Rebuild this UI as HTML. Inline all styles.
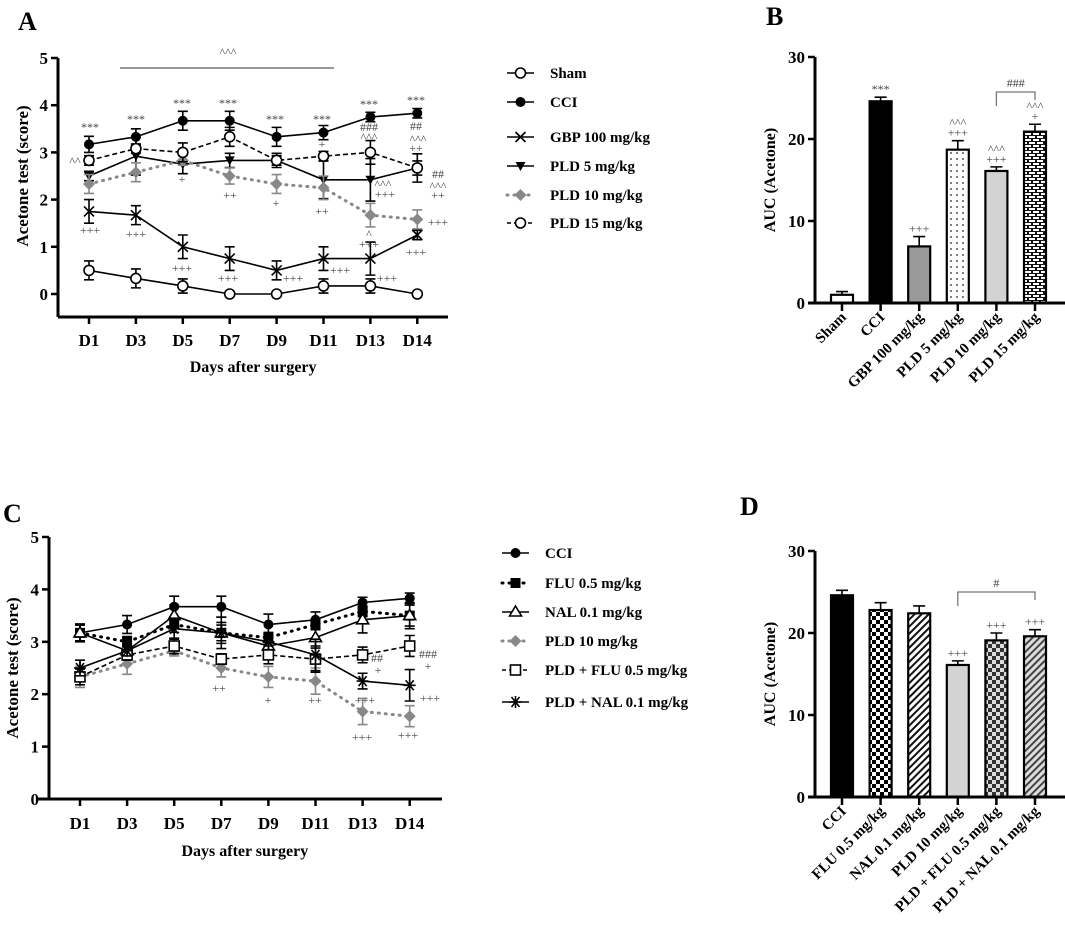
<!DOCTYPE html>
<html><head><meta charset="utf-8"><style>
html,body{margin:0;padding:0;background:#fff;}
svg{display:block;font-family:"Liberation Serif",serif;}
</style></head><body>
<svg id="fig" width="1065" height="928" viewBox="0 0 1065 928" xmlns="http://www.w3.org/2000/svg">
<defs>
<pattern id="pDots" width="6" height="6" patternUnits="userSpaceOnUse"><rect width="6" height="6" fill="#fff"/><circle cx="3" cy="3" r="0.9" fill="#222"/></pattern>
<pattern id="pBrick" width="8" height="6" patternUnits="userSpaceOnUse"><rect width="8" height="6" fill="#111"/><rect x="1" y="1" width="6" height="2" fill="#fff"/><rect x="0" y="4" width="3" height="2" fill="#fff"/><rect x="5" y="4" width="3" height="2" fill="#fff"/></pattern>
<pattern id="pCheck" width="8" height="8" patternUnits="userSpaceOnUse"><rect width="8" height="8" fill="#fff"/><rect width="4" height="4" fill="#000"/><rect x="4" y="4" width="4" height="4" fill="#000"/></pattern>
<pattern id="pHatch" width="5" height="5" patternUnits="userSpaceOnUse" patternTransform="rotate(45)"><rect width="5" height="5" fill="#fff"/><rect width="2" height="5" fill="#111"/></pattern>
<pattern id="pGCheck" width="8" height="8" patternUnits="userSpaceOnUse"><rect width="8" height="8" fill="#ddd"/><rect width="4" height="4" fill="#333"/><rect x="4" y="4" width="4" height="4" fill="#333"/></pattern>
<pattern id="pGHatch" width="5" height="5" patternUnits="userSpaceOnUse" patternTransform="rotate(45)"><rect width="5" height="5" fill="#ddd"/><rect width="2" height="5" fill="#444"/></pattern>
</defs>
</svg>
<script>
// ---- data ----
const days = ["D1","D3","D5","D7","D9","D11","D13","D14"];
const aSham = [0.5,0.33,0.17,0,0,0.17,0.17,0];
const aCCI = [3.17,3.33,3.67,3.67,3.33,3.42,3.75,3.83];
const aGBP = [1.75,1.67,1.0,0.75,0.5,0.75,0.75,1.25];
const aPLD5 = [2.5,2.92,2.75,2.83,2.83,2.42,2.42,2.67];
const aPLD10 = [2.33,2.58,2.83,2.5,2.33,2.25,1.67,1.58];
const aPLD15 = [2.83,3.08,3.0,3.33,2.83,2.92,3.0,2.67];
const errSham = [0.2,0.2,0.15,0,0,0.15,0.15,0];
const errCCI = [0.17,0.17,0.2,0.2,0.2,0.15,0.1,0.1];
const errGBP = [0.25,0.2,0.25,0.25,0.2,0.25,0.35,0.1];
const errPLD5 = [0.1,0.4,0.2,0.15,0.15,0.4,0.45,0.15];
const errPLD10 = [0.2,0.2,0.1,0.17,0.2,0.25,0.25,0.2];
const errPLD15 = [0.1,0.1,0.2,0.2,0.1,0.1,0.25,0.3];
const cFLU = [3.17,3.0,3.33,3.17,3.08,3.33,3.58,3.5];
const cNAL = [3.17,2.83,3.5,3.17,2.92,3.08,3.42,3.5];
const cPF = [2.33,2.75,2.92,2.67,2.75,2.67,2.75,2.92];
const cPN = [2.5,2.83,3.25,3.17,3.0,2.75,2.25,2.17];
const errFLU = [0.15,0.1,0.15,0.3,0.1,0.1,0.1,0.25];
const errNAL = [0.15,0.1,0.2,0.2,0.15,0.2,0.25,0.2];
const errPF = [0.15,0.1,0.15,0.1,0.17,0.25,0.15,0.2];
const errPN = [0.15,0.1,0.2,0.15,0.15,0.3,0.15,0.3];
const lineTicks = [0,1,2,3,4,5];
const bLabels = ["Sham","CCI","GBP 100 mg/kg","PLD 5 mg/kg","PLD 10 mg/kg","PLD 15 mg/kg"];
const bValues = [1.0,24.6,6.9,18.7,16.1,20.9];
const bErr = [0.4,0.5,1.2,1.1,0.5,0.9];
const dLabels = ["CCI","FLU 0.5 mg/kg","NAL 0.1 mg/kg","PLD 10 mg/kg","PLD + FLU 0.5 mg/kg","PLD + NAL 0.1 mg/kg"];
const dValues = [24.6,22.8,22.4,16.1,19.1,19.6];
const dErr = [0.6,0.9,0.9,0.5,0.9,0.8];
const barTicks = [0,10,20,30];

const NS="http://www.w3.org/2000/svg";
const svg=document.getElementById('fig');
function el(tag,attrs,parent,txt){const e=document.createElementNS(NS,tag);for(const k in attrs)e.setAttribute(k,attrs[k]);if(txt!==undefined)e.textContent=txt;(parent||svg).appendChild(e);return e;}

function marker(g,type,x,y,col){
  const s={stroke:col,'stroke-width':1.6};
  if(type==='ocircle')el('circle',Object.assign({cx:x,cy:y,r:5,fill:'#fff'},s),g);
  else if(type==='fcircle')el('circle',{cx:x,cy:y,r:5,fill:col},g);
  else if(type==='x'){el('path',Object.assign({d:`M${x-5} ${y-5}L${x+5} ${y+5}M${x-5} ${y+5}L${x+5} ${y-5}`},s),g);}
  else if(type==='dtri')el('path',{d:`M${x-5} ${y-4}L${x+5} ${y-4}L${x} ${y+5}Z`,fill:col},g);
  else if(type==='diamond')el('path',{d:`M${x} ${y-6}L${x+6} ${y}L${x} ${y+6}L${x-6} ${y}Z`,fill:col},g);
  else if(type==='fsquare')el('rect',{x:x-5,y:y-5,width:10,height:10,fill:col},g);
  else if(type==='osquare')el('rect',Object.assign({x:x-5,y:y-5,width:10,height:10,fill:'#fff'},s),g);
  else if(type==='otri')el('path',Object.assign({d:`M${x} ${y-6}L${x+6} ${y+4}L${x-6} ${y+4}Z`,fill:'#fff'},s),g);
  else if(type==='star'){el('path',Object.assign({d:`M${x-6} ${y}L${x+6} ${y}M${x-4} ${y-5}L${x+4} ${y+5}M${x-4} ${y+5}L${x+4} ${y-5}M${x} ${y-6}L${x} ${y+6}`},s),g);}
}
const dash={solid:null,dashed:'5,3',dotted:'1,6'};

function lineChart(cfg){
  const g=el('g',{});
  
  
  const X=i=>cfg.x0+i*cfg.dx, Y=v=>cfg.y0-v*cfg.k;
  el('line',{x1:cfg.ax,y1:Y(5),x2:cfg.ax,y2:cfg.axBottom,stroke:'#000','stroke-width':3},g);
  el('line',{x1:cfg.xStart,y1:cfg.axBottom,x2:cfg.xEnd,y2:cfg.axBottom,stroke:'#000','stroke-width':3},g);
  lineTicks.forEach(t=>{
    el('line',{x1:cfg.ax-7,y1:Y(t),x2:cfg.ax,y2:Y(t),stroke:'#000','stroke-width':2.5},g);
    const tl=el('text',{x:cfg.ax-10,y:Y(t)+6,'text-anchor':'end','font-size':17,'font-weight':'bold'},g,t);
    
  });
  days.forEach((d,i)=>{
    el('line',{x1:X(i),y1:cfg.axBottom,x2:X(i),y2:cfg.axBottom+7,stroke:'#000','stroke-width':2.5},g);
    const tl=el('text',{x:X(i),y:cfg.tickY,'text-anchor':'middle','font-size':17,'font-weight':'bold'},g,d);
    
  });
  const yt=el('text',{x:0,y:0,transform:`translate(${cfg.ytX},${cfg.ytY}) rotate(-90)`,'text-anchor':'middle','font-size':17,'font-weight':'bold'},g,'Acetone test (score)');
  
  const xt=el('text',{x:(X(0)+X(7))/2,y:cfg.xtY,'text-anchor':'middle','font-size':16,'font-weight':'bold'},g,'Days after surgery');
  
  cfg.series.forEach(s=>{
    const sg=el('g',{},g);
    
    
    s.err.forEach((e,i)=>{ if(e>0){
      el('path',{d:`M${X(i)} ${Y(s.v[i]-e)}L${X(i)} ${Y(s.v[i]+e)}M${X(i)-5} ${Y(s.v[i]+e)}L${X(i)+5} ${Y(s.v[i]+e)}M${X(i)-5} ${Y(s.v[i]-e)}L${X(i)+5} ${Y(s.v[i]-e)}`,stroke:s.col,'stroke-width':1.6,fill:'none'},sg);}});
    const pl=el('polyline',{points:s.v.map((v,i)=>X(i)+','+Y(v)).join(' '),fill:'none',stroke:s.col,'stroke-width':s.st==='dotted'?3:1.6,'stroke-linecap':s.st==='dotted'?'round':'butt'},sg);
    if(dash[s.st])pl.setAttribute('stroke-dasharray',dash[s.st]);
    
    s.v.forEach((v,i)=>marker(sg,s.m,X(i),Y(v),s.col));
  });
  // legend
  cfg.series.forEach((s,j)=>{
    const lg=el('g',{},g);
    
    
    const y=cfg.legY[j];
    const l=el('line',{x1:cfg.legX,y1:y,x2:cfg.legX+27,y2:y,stroke:s.col,'stroke-width':s.st==='dotted'?3:1.6,'stroke-linecap':s.st==='dotted'?'round':'butt'},lg);
    if(dash[s.st])l.setAttribute('stroke-dasharray',s.st==='dotted'?'1,6':'4,3');
    marker(lg,s.m,cfg.legX+13.5,y,s.col);
    el('text',{x:cfg.legTX,y:y+5,'font-size':15,'font-weight':'bold'},lg,s.label);
  });
  // annotations
  const ag=el('g',{fill:'#444','font-size':12,'text-anchor':'middle'},g);
  
  cfg.ann.forEach(a=>el('text',{x:a[0],y:a[1]+4},ag,a[2]));
}

lineChart({name:'panel-a-line-chart',x0:89,dx:46.9,y0:294,k:47.2,ax:58,axBottom:317,xStart:58,xEnd:448,tickY:346,ytX:28,ytY:176,xtY:372,
 legX:507,legTX:550,legY:[73,102,137,166,195,223],
 series:[
  {id:'sham',label:'Sham',v:aSham,err:errSham,m:'ocircle',st:'solid',col:'#000'},
  {id:'cci',label:'CCI',v:aCCI,err:errCCI,m:'fcircle',st:'solid',col:'#000'},
  {id:'gbp',label:'GBP 100 mg/kg',v:aGBP,err:errGBP,m:'x',st:'solid',col:'#000'},
  {id:'pld5',label:'PLD 5 mg/kg',v:aPLD5,err:errPLD5,m:'dtri',st:'solid',col:'#000'},
  {id:'pld10',label:'PLD 10 mg/kg',v:aPLD10,err:errPLD10,m:'diamond',st:'dotted',col:'#888'},
  {id:'pld15',label:'PLD 15 mg/kg',v:aPLD15,err:errPLD15,m:'ocircle',st:'dashed',col:'#000'}],
 ann:[[90,127,'***'],[136,119,'***'],[182,103,'***'],[228,103,'***'],[275,119,'***'],[322,119,'***'],[369,104,'***'],[416,100,'***'],
  [369,127,'###'],[369,137,'^^^'],[416,126,'##'],[418,139,'^^^'],[416,148,'++'],[322,144,'+'],[75,161,'^^'],
  [182,179,'+'],[230,195,'++'],[276,203,'+'],[322,211,'++'],[383,184,'^^^'],[385,194,'+++'],
  [438,174,'##'],[438,186,'^^^'],[438,195,'++'],[438,222,'+++'],
  [90,230,'+++'],[136,234,'+++'],[182,268,'+++'],[228,278,'+++'],[293,278,'+++'],[340,270,'+++'],[387,278,'+++'],[416,252,'+++'],
  [369,234,'^'],[369,244,'+++'],[228,52,'^^^']]
});
el('line',{x1:120,y1:68,x2:334,y2:68,stroke:'#777','stroke-width':1.5});

lineChart({name:'panel-c-line-chart',x0:80,dx:47.1,y0:799,k:52.4,ax:49,axBottom:799,xStart:38,xEnd:442,tickY:829,ytX:18,ytY:668,xtY:856,
 legX:502,legTX:545,legY:[553,583,612,641,670,702],
 series:[
  {id:'cci',label:'CCI',v:aCCI,err:errCCI,m:'fcircle',st:'solid',col:'#000'},
  {id:'flu',label:'FLU 0.5 mg/kg',v:cFLU,err:errFLU,m:'fsquare',st:'dotted',col:'#000'},
  {id:'nal',label:'NAL 0.1 mg/kg',v:cNAL,err:errNAL,m:'otri',st:'solid',col:'#000'},
  {id:'pld10',label:'PLD 10 mg/kg',v:aPLD10,err:errPLD10,m:'diamond',st:'dotted',col:'#888'},
  {id:'pld-flu',label:'PLD + FLU 0.5 mg/kg',v:cPF,err:errPF,m:'osquare',st:'dashed',col:'#000'},
  {id:'pld-nal',label:'PLD + NAL 0.1 mg/kg',v:cPN,err:errPN,m:'star',st:'solid',col:'#000'}],
 ann:[[219,688,'++'],[268,700,'+'],[315,700,'++'],[365,700,'+++'],[430,698,'+++'],[377,658,'##'],[378,670,'+'],[428,654,'###'],[428,666,'+'],[362,737,'+++'],[408,735,'+++']]
});

function barChart(cfg){
  const g=el('g',{});
  
  
  const Y=v=>cfg.y0-v*cfg.k, X=i=>842+i*38.6, bw=22;
  cfg.vals.forEach((v,i)=>{
    const e=cfg.err[i];
    el('path',{d:`M${X(i)} ${Y(v)}L${X(i)} ${Y(v+e)}M${X(i)-6} ${Y(v+e)}L${X(i)+6} ${Y(v+e)}`,stroke:'#000','stroke-width':1.6},g);
    const r=el('rect',{x:X(i)-bw/2,y:Y(v),width:bw,height:cfg.y0-Y(v),fill:cfg.fills[i],stroke:'#000','stroke-width':2.2},g);
    
    el('line',{x1:X(i),y1:cfg.y0,x2:X(i),y2:cfg.y0+8,stroke:'#000','stroke-width':2.5},g);
    const t=el('text',{x:0,y:0,transform:`translate(${X(i)+5},${cfg.y0+15}) rotate(-45)`,'text-anchor':'end','font-size':15,'font-weight':'bold'},g,cfg.labels[i]);
    
  });
  el('line',{x1:815,y1:Y(30),x2:815,y2:cfg.y0,stroke:'#000','stroke-width':3},g);
  el('line',{x1:808,y1:cfg.y0,x2:1065,y2:cfg.y0,stroke:'#000','stroke-width':3},g);
  barTicks.forEach(t=>{
    el('line',{x1:808,y1:Y(t),x2:815,y2:Y(t),stroke:'#000','stroke-width':2.5},g);
    el('text',{x:805,y:Y(t)+6,'text-anchor':'end','font-size':17,'font-weight':'bold'},g,t);
  });
  el('text',{x:0,y:0,transform:`translate(775,${(Y(30)+cfg.y0)/2}) rotate(-90)`,'text-anchor':'middle','font-size':16,'font-weight':'bold'},g,'AUC (Acetone)');
  const ag=el('g',{fill:'#444','font-size':12,'text-anchor':'middle'},g);
  
  cfg.ann.forEach(a=>el('text',{x:X(a[0]),y:Y(cfg.vals[a[0]]+cfg.err[a[0]])-a[1]},ag,a[2]));
  const b=cfg.bracket;
  el('path',{d:`M${X(b[0])} ${b[2]+14}L${X(b[0])} ${b[2]}L${X(b[1])} ${b[2]}L${X(b[1])} ${b[2]+8}`,fill:'none',stroke:'#777','stroke-width':1.3},g);
  el('text',{x:(X(b[0])+X(b[1]))/2,y:b[2]-5,'text-anchor':'middle','font-size':12,fill:'#444'},g,b[3]);
}
barChart({name:'panel-b-bar-chart',y0:303,k:8.2,vals:bValues,err:bErr,labels:bLabels,
 fills:['#fff','#000','#999','url(#pDots)','#d3d3d3','url(#pBrick)'],
 ann:[[1,4,'***'],[2,4,'+++'],[3,4,'+++'],[3,14,'^^^'],[4,4,'+++'],[4,14,'^^^'],[5,4,'+'],[5,14,'^^^']],
 bracket:[4,5,92,'###']});
barChart({name:'panel-d-bar-chart',y0:797,k:8.2,vals:dValues,err:dErr,labels:dLabels,
 fills:['#000','url(#pCheck)','url(#pHatch)','#d3d3d3','url(#pGCheck)','url(#pGHatch)'],
 ann:[[3,4,'+++'],[4,4,'+++'],[5,4,'+++']],
 bracket:[3,5,592,'#']});

[['A',18,30],['B',766,25],['C',3,522],['D',740,515]].forEach(p=>{
  const t=el('text',{x:p[1],y:p[2],'font-size':26,'font-weight':'bold'},svg,p[0]);
  
  
});
</script>
</body></html>
